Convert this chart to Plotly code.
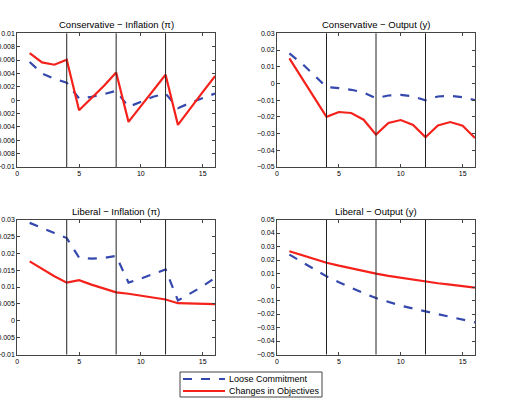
import plotly.graph_objects as go

periods = list(range(1, 17))

cons_infl_loose = [0.0057, 0.0040, 0.0032, 0.0026, 0.00025, 0.0005, 0.0009, 0.0014,
                   -0.0010, -0.0002, 0.0005, 0.0010, -0.0012, -0.0004, 0.0003, 0.0010]
cons_infl_change = [0.00705, 0.00565, 0.0053, 0.00605, -0.0015, 0.0003, 0.0021, 0.00415,
                    -0.00325, -0.0009, 0.0014, 0.0038, -0.0037, -0.0012, 0.0012, 0.0036]

cons_out_loose = [0.018, 0.012, 0.005, -0.0022, -0.0028, -0.0038, -0.0054, -0.0088,
                  -0.0072, -0.0068, -0.0078, -0.0101, -0.0078, -0.0074, -0.0082, -0.0100]
cons_out_change = [0.015, 0.0033, -0.0083, -0.0200, -0.0171, -0.0177, -0.0217, -0.0306,
                   -0.0237, -0.0219, -0.0249, -0.0322, -0.0251, -0.0231, -0.0253, -0.0326]

lib_infl_loose = [0.0290, 0.0276, 0.0260, 0.0245, 0.0187, 0.0184, 0.0186, 0.0192,
                  0.0113, 0.0125, 0.0138, 0.0152, 0.0060, 0.0080, 0.0102, 0.0127]
lib_infl_change = [0.0176, 0.0153, 0.0132, 0.0113, 0.0120, 0.0107, 0.0095, 0.0084,
                   0.0080, 0.0074, 0.0069, 0.0063, 0.0052, 0.0051, 0.0050, 0.0049]

lib_out_loose = [0.024, 0.0185, 0.013, 0.0079, 0.0035, -0.0008, -0.0046, -0.0082,
                 -0.0111, -0.0138, -0.0160, -0.0180, -0.0203, -0.0223, -0.0243, -0.0262]
lib_out_change = [0.0265, 0.0235, 0.0207, 0.0180, 0.0158, 0.0137, 0.0117, 0.0099,
                  0.0083, 0.0068, 0.0054, 0.0040, 0.0028, 0.0017, 0.0006, -0.0005]

vlines = [4, 8, 12]
x_ticks = [0, 5, 10, 15]

titles = ["Conservative − Inflation (π)", "Conservative − Output (y)",
          "Liberal − Inflation (π)", "Liberal − Output (y)"]
series_names = ["Loose Commitment", "Changes in Objectives"]

yt_ci = [0.01, 0.008, 0.006, 0.004, 0.002, 0, -0.002, -0.004, -0.006, -0.008, -0.01]
yl_ci = ["0.01", "0.008", "0.006", "0.004", "0.002", "0", "−0.002", "−0.004", "−0.006", "−0.008", "−0.01"]
yt_co = [0.03, 0.02, 0.01, 0, -0.01, -0.02, -0.03, -0.04, -0.05]
yl_co = ["0.03", "0.02", "0.01", "0", "−0.01", "−0.02", "−0.03", "−0.04", "−0.05"]
yt_li = [0.03, 0.025, 0.02, 0.015, 0.01, 0.005, 0, -0.005, -0.01]
yl_li = ["0.03", "0.025", "0.02", "0.015", "0.01", "0.005", "0", "−0.005", "−0.01"]
yt_lo = [0.05, 0.04, 0.03, 0.02, 0.01, 0, -0.01, -0.02, -0.03, -0.04, -0.05]
yl_lo = ["0.05", "0.04", "0.03", "0.02", "0.01", "0", "−0.01", "−0.02", "−0.03", "−0.04", "−0.05"]

W, H = 531, 398
BLUE = "#3448ae"
RED = "#f5221c"
FONT = "Liberation Sans, Arial, sans-serif"

panels = [
    dict(loose=cons_infl_loose, change=cons_infl_change, yr=[-0.01, 0.01], yt=yt_ci, yl=yl_ci,
         px=(17.3, 215), py=(33.3, 167), ty=25),
    dict(loose=cons_out_loose, change=cons_out_change, yr=[-0.05, 0.03], yt=yt_co, yl=yl_co,
         px=(277, 475), py=(33.3, 167), ty=25),
    dict(loose=lib_infl_loose, change=lib_infl_change, yr=[-0.01, 0.03], yt=yt_li, yl=yl_li,
         px=(17.3, 215), py=(219.5, 354.5), ty=211),
    dict(loose=lib_out_loose, change=lib_out_change, yr=[-0.05, 0.05], yt=yt_lo, yl=yl_lo,
         px=(277, 475), py=(219.5, 354.5), ty=211),
]

fig = go.Figure()
layout = dict(width=W, height=H, margin=dict(l=0, r=0, t=0, b=0, autoexpand=False),
              paper_bgcolor="white", plot_bgcolor="white",
              font=dict(family=FONT, color="black"),
              showlegend=False)
annotations = []
shapes = []
for i, p in enumerate(panels):
    n = "" if i == 0 else str(i + 1)
    xa, ya = "x" + n, "y" + n
    fig.add_trace(go.Scatter(x=periods, y=p["loose"], mode="lines", xaxis=xa, yaxis=ya,
                             line=dict(color=BLUE, width=2.2, dash="dash"),
                             name=series_names[0]))
    fig.add_trace(go.Scatter(x=periods, y=p["change"], mode="lines", xaxis=xa, yaxis=ya,
                             line=dict(color=RED, width=2.2),
                             name=series_names[1]))
    common = dict(showline=True, mirror="ticks", linecolor="#444", linewidth=1,
                  ticks="inside", ticklen=3, tickcolor="#444", showgrid=False,
                  zeroline=False, tickfont=dict(size=7), automargin=False)
    layout["xaxis" + n] = dict(domain=[p["px"][0] / W, p["px"][1] / W], range=[0, 16],
                               tickvals=x_ticks, anchor=ya, **common)
    layout["yaxis" + n] = dict(domain=[1 - p["py"][1] / H, 1 - p["py"][0] / H], range=p["yr"],
                               tickvals=p["yt"], ticktext=p["yl"], anchor=xa, **common)
    for v in vlines:
        shapes.append(dict(type="line", xref=xa, yref=ya + " domain", x0=v, x1=v, y0=0, y1=1,
                           line=dict(color="#222", width=1)))
    annotations.append(dict(text=titles[i], xref="paper", yref="paper",
                            x=(p["px"][0] + p["px"][1]) / 2 / W, y=1 - p["ty"] / H,
                            xanchor="center", yanchor="middle", showarrow=False,
                            font=dict(size=9.5)))

# legend box (drawn manually to match the compact MATLAB legend)
lx0, lx1, ly0, ly1 = 180, 322, 372, 397
shapes.append(dict(type="rect", xref="paper", yref="paper",
                   x0=lx0 / W, x1=lx1 / W, y0=1 - ly1 / H, y1=1 - ly0 / H,
                   line=dict(color="#444", width=1), fillcolor="white"))
rows = [(379, BLUE, "dash"), (391, RED, "solid")]
for (ry, col, dash), name in zip(rows, series_names):
    shapes.append(dict(type="line", xref="paper", yref="paper",
                       x0=183 / W, x1=225 / W, y0=1 - ry / H, y1=1 - ry / H,
                       line=dict(color=col, width=2, dash=dash)))
    annotations.append(dict(text=name, xref="paper", yref="paper",
                            x=227 / W, y=1 - ry / H, xanchor="left", yanchor="middle",
                            showarrow=False, font=dict(size=9)))

layout["annotations"] = annotations
layout["shapes"] = shapes
fig.update_layout(**layout)
fig.write_html("out.html", config={"displayModeBar": False},
               post_script="document.body.style.margin='0';document.body.style.overflow='hidden';")
